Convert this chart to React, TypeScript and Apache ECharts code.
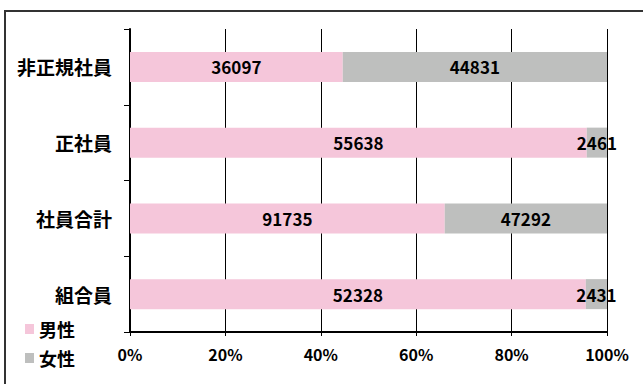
import React, { useEffect, useRef } from "react";
import * as echarts from "echarts";

const categories = ["組合員", "社員合計", "正社員", "非正規社員"];
const maleValues = [52328, 91735, 55638, 36097];
const femaleValues = [2431, 47292, 2461, 44831];
const xTicks = [0, 20, 40, 60, 80, 100];
const seriesNames = ["男性", "女性"];

const FONT = "'Noto Sans CJK JP', 'Liberation Sans', sans-serif";

export default function App() {
  const ref = useRef<HTMLDivElement>(null);
  useEffect(() => {
    document.body.style.margin = "0";
    if (!ref.current) return;
    const chart = echarts.init(ref.current, undefined, { renderer: "svg" });
    const totals = maleValues.map((m, i) => m + femaleValues[i]);
    const malePct = maleValues.map((m, i) => (m / totals[i]) * 100);
    const femalePct = femaleValues.map((f, i) => (f / totals[i]) * 100);
    const labelStyle = {
      show: true,
      position: "inside" as const,
      color: "#000",
      fontSize: 17,
      fontWeight: "bold" as const,
      fontFamily: FONT,
    };
    chart.setOption({
      animation: false,
      textStyle: { fontFamily: FONT },
      graphic: [
        {
          type: "rect",
          shape: { x: 5, y: 11, width: 700, height: 500 },
          style: { fill: "none", stroke: "#333", lineWidth: 2 },
          silent: true,
          z: -10,
        },
      ],
      legend: {
        orient: "vertical",
        left: 20,
        top: 315,
        itemWidth: 9,
        itemHeight: 10,
        itemGap: 11,
        icon: "rect",
        data: seriesNames,
        textStyle: { fontSize: 18, fontWeight: "bold", color: "#000", fontFamily: FONT },
      },
      grid: { left: 130, right: 36, top: 29, bottom: 52 },
      xAxis: {
        type: "value",
        min: xTicks[0],
        max: xTicks[xTicks.length - 1],
        interval: 20,
        axisLine: { show: true, lineStyle: { color: "#000", width: 2 } },
        axisTick: { show: true, length: 4, lineStyle: { color: "#000" } },
        splitLine: { show: true, lineStyle: { color: "#000", width: 1 } },
        axisLabel: {
          formatter: "{value}%",
          color: "#000",
          fontSize: 16,
          fontWeight: "bold",
          margin: 14,
          fontFamily: FONT,
        },
      },
      yAxis: {
        type: "category",
        data: categories,
        axisLine: { show: true, lineStyle: { color: "#000", width: 2 } },
        axisTick: { show: true, length: 6, lineStyle: { color: "#000" } },
        axisLabel: {
          color: "#000",
          fontSize: 19,
          fontWeight: "bold",
          margin: 18,
          fontFamily: FONT,
        },
      },
      series: [
        {
          name: seriesNames[0],
          type: "bar",
          stack: "total",
          barWidth: 30,
          data: malePct,
          itemStyle: { color: "#F5C6DA" },
          label: { ...labelStyle, formatter: (p: any) => String(maleValues[p.dataIndex]) },
          z: 3,
        },
        {
          name: seriesNames[1],
          type: "bar",
          stack: "total",
          barWidth: 30,
          data: femalePct,
          itemStyle: { color: "#BEBFBE" },
          label: { ...labelStyle, formatter: (p: any) => String(femaleValues[p.dataIndex]) },
          z: 3,
        },
      ],
    });
    return () => chart.dispose();
  }, []);
  return <div ref={ref} style={{ width: 643, height: 384 }} />;
}
